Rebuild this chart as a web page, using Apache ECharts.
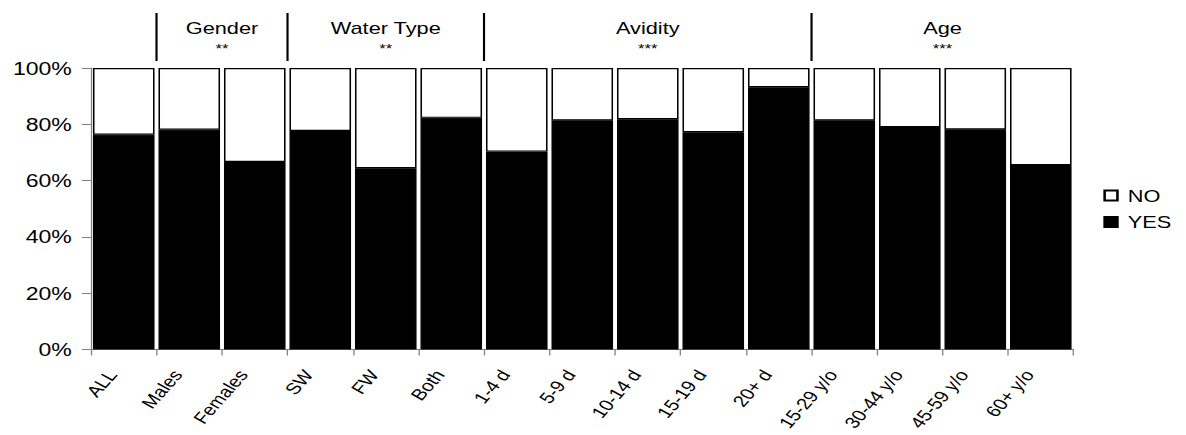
<!DOCTYPE html>
<html>
<head>
<meta charset="utf-8">
<script src="https://cdn.jsdelivr.net/npm/echarts@6/dist/echarts.min.js"></script>
<style>
html,body{margin:0;padding:0;background:#fff;overflow:hidden;}
#wrap{width:1186px;height:435px;overflow:hidden;}
#chart{width:927px;height:435px;transform:scaleX(1.28);transform-origin:0 0;}
</style>
</head>
<body>
<div id="wrap"><div id="chart"></div></div>
<script>
const categories = ['ALL','Males','Females','SW','FW','Both','1-4 d','5-9 d','10-14 d','15-19 d','20+ d','15-29 y/o','30-44 y/o','45-59 y/o','60+ y/o'];
const yesValues = [76.3, 78.1, 66.6, 77.6, 64.4, 82.3, 70.3, 81.4, 81.8, 77.2, 93.2, 81.4, 79.0, 78.2, 65.5];
const noValues  = [23.7, 21.9, 33.4, 22.4, 35.6, 17.7, 29.7, 18.6, 18.2, 22.8,  6.8, 18.6, 21.0, 21.8, 34.5];
const yTicks = [0, 20, 40, 60, 80, 100];
const groupNames = ['Gender','Water Type','Avidity','Age'];
const groupStars = ['**','**','***','***'];
const groupStart = [1, 3, 6, 11];
const groupEnd   = [2, 5, 10, 14];

const FONT = '"Liberation Sans", Arial, sans-serif';
const chart = echarts.init(document.getElementById('chart'), null, {renderer:'svg', width: 927, height: 435});

const option = {
  animation: false,
  backgroundColor: '#ffffff',
  textStyle: {fontFamily: FONT, color: '#000'},
  grid: {left: 71.1, right: 88.3, top: 68, bottom: 85.5, containLabel: false, outerBoundsMode: 'none'},
  legend: {
    orient: 'vertical',
    left: 857, top: 182,
    itemWidth: 10, itemHeight: 10, itemGap: 9.5,
    icon: 'rect',
    data: ['NO','YES'],
    textStyle: {fontFamily: FONT, fontSize: 17, color: '#000', padding: [0,0,0,3]}
  },
  xAxis: {
    type: 'category',
    data: categories,
    axisLine: {lineStyle: {color: '#808080', width: 1}},
    axisTick: {show: true, length: 6, interval: 0, lineStyle: {color: '#808080'}},
    axisLabel: {
      interval: 0, rotate: 55, margin: 9,
      fontFamily: FONT, fontSize: 16, color: '#000', hideOverlap: false,
      padding: [0, 16, 0, 0]
    }
  },
  yAxis: {
    type: 'value',
    min: yTicks[0], max: yTicks[yTicks.length-1], interval: 20,
    axisLine: {show: true, lineStyle: {color: '#808080', width: 1}},
    axisTick: {show: true, length: 7, lineStyle: {color: '#808080'}},
    splitLine: {show: false},
    axisLabel: {formatter: '{value}%', fontFamily: FONT, fontSize: 18, color: '#000', margin: 15}
  },
  series: [
    {
      name: 'YES', type: 'bar', stack: 'total', data: yesValues,
      barCategoryGap: '6%',
      itemStyle: {color: '#000', borderColor: '#000', borderWidth: 1}
    },
    {
      name: 'NO', type: 'bar', stack: 'total', data: noValues,
      barCategoryGap: '6%',
      itemStyle: {color: '#fff', borderColor: '#000', borderWidth: 1.2}
    }
  ]
};
chart.setOption(option);

// Group separators and labels above the plot, placed via the axis scale
function px(i){ return chart.convertToPixel({xAxisIndex: 0}, i); }
const step = px(1) - px(0);
const boundary = i => px(i) - step/2;
const graphics = [];
for (let g = 0; g < groupNames.length; g++) {
  const x0 = boundary(groupStart[g]);
  const x1 = boundary(groupEnd[g] + 1);
  graphics.push({
    type: 'line', silent: true,
    shape: {x1: x0, y1: 13, x2: x0, y2: 61},
    style: {stroke: '#000', lineWidth: 1.7}
  });
  graphics.push({
    type: 'text', silent: true, x: (x0 + x1)/2, y: 28,
    style: {text: groupNames[g], fontFamily: FONT, fontSize: 17, fill: '#000', align: 'center', verticalAlign: 'middle'}
  });
  graphics.push({
    type: 'text', silent: true, x: (x0 + x1)/2, y: 48,
    style: {text: groupStars[g], fontFamily: FONT, fontSize: 13, fill: '#000', align: 'center', verticalAlign: 'middle'}
  });
}
chart.setOption({graphic: graphics});
</script>
</body>
</html>
